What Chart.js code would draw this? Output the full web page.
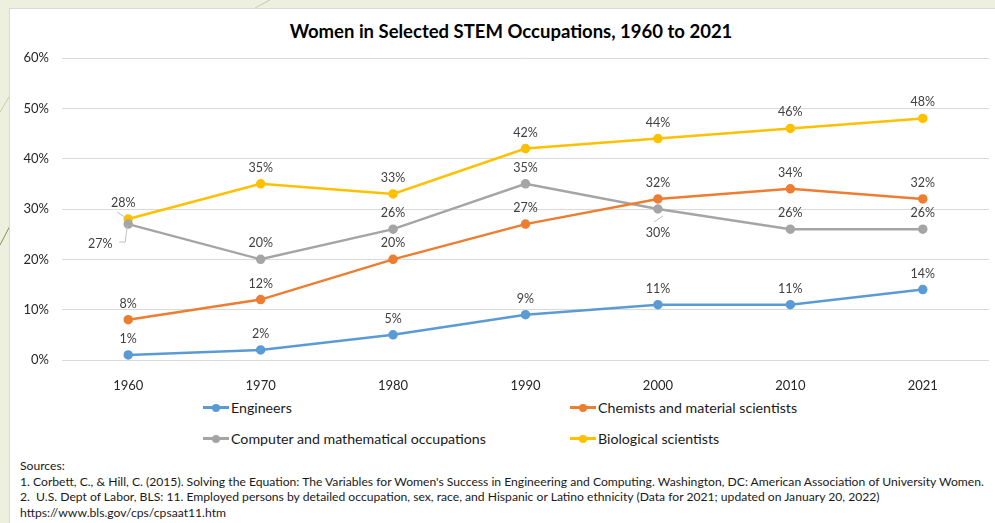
<!DOCTYPE html>
<html lang="en">
<head>
<meta charset="UTF-8">
<title>Women in Selected STEM Occupations</title>
<script src="https://cdn.jsdelivr.net/npm/chart.js"></script>
<style>
  html, body { margin: 0; padding: 0; }
  body { width: 995px; height: 523px; background: #eef0df; position: relative; overflow: hidden; font-family: Lato, "Open Sans", sans-serif; }
  #deco { position: absolute; left: 0; top: 0; }
  #card { position: absolute; left: 9px; top: 8px; width: 986px; height: 515px; background: #fff; border-top: 1px solid #d9d9d9; border-left: 1px solid #d9d9d9; }
  #wrap { position: absolute; left: 0; top: 0; width: 995px; height: 395px; }
  #title { position: absolute; left: 211px; width: 600px; top: 20px; text-align: center; font-size: 18.5px; font-weight: bold; color: #000; }
  .leg { position: absolute; font-size: 14.2px; color: #1a1a1a; display: flex; align-items: center; }
  .leg i { display: inline-block; position: relative; width: 26px; height: 3px; margin-right: 2px; }
  .leg i b { position: absolute; left: 9px; top: -2.5px; width: 8px; height: 8px; border-radius: 50%; }
  #src { position: absolute; left: 20px; top: 458px; font-size: 12.15px; line-height: 15.5px; color: #1a1a1a; white-space: nowrap; }
</style>
</head>
<body>
<svg id="deco" width="995" height="523">
  <line x1="0" y1="112" x2="12" y2="92" stroke="#c9cba8" stroke-width="1"/>
  <line x1="0" y1="245" x2="12" y2="222" stroke="#8a8a5a" stroke-width="1"/>
  <line x1="255" y1="8" x2="270" y2="0" stroke="#c9cba8" stroke-width="1"/>
</svg>
<div id="card"></div>
<div id="title">Women in Selected STEM Occupations, 1960 to 2021</div>
<div id="wrap"><canvas id="stemChart" width="995" height="395"></canvas></div>

<div class="leg" style="left:203px; top:399px;"><i style="background:#5b9bd5"><b style="background:#5b9bd5"></b></i>Engineers</div>
<div class="leg" style="left:570px; top:399px;"><i style="background:#ed7d31"><b style="background:#ed7d31"></b></i>Chemists and material scientists</div>
<div class="leg" style="left:203px; top:430px;"><i style="background:#a5a5a5"><b style="background:#a5a5a5"></b></i>Computer and mathematical occupations</div>
<div class="leg" style="left:570px; top:430px;"><i style="background:#ffc000"><b style="background:#ffc000"></b></i>Biological scientists</div>

<div id="src">
Sources:<br>
1. Corbett, C., &amp; Hill, C. (2015). Solving the Equation: The Variables for Women's Success in Engineering and Computing. Washington, DC: American Association of University Women.<br>
2.&nbsp; U.S. Dept of Labor, BLS: 11. Employed persons by detailed occupation, sex, race, and Hispanic or Latino ethnicity (Data for 2021; updated on January 20, 2022)<br>
https://www.bls.gov/cps/cpsaat11.htm
</div>

<script>
var years = ['1960', '1970', '1980', '1990', '2000', '2010', '2021'];
var engineers = [1, 2, 5, 9, 11, 11, 14];
var chemists = [8, 12, 20, 27, 32, 34, 32];
var computer = [27, 20, 26, 35, 30, 26, 26];
var biological = [28, 35, 33, 42, 44, 46, 48];

// label tweaks: [datasetIndex, pointIndex] -> offset from point, plus leader line
var labelNudge = {
    '2,0': { dx: -28, dy: 20, leader: [[-9, 18], [-3, 18], [-1, 2]] },
    '3,0': { dx: -5, dy: -16, leader: [[-11, -7], [-2, -1]] },
    '2,4': { dx: 0, dy: 24, leader: [[-4, 13], [5, 7]] }
};

var pointLabels = {
    id: 'pointLabels',
    afterDatasetsDraw: function(chart) {
        var ctx = chart.ctx;
        ctx.save();
        ctx.font = '12.5px Lato, "Open Sans", sans-serif';
        ctx.fillStyle = '#404040';
        ctx.textAlign = 'center';
        ctx.textBaseline = 'middle';
        chart.data.datasets.forEach(function(ds, i) {
            chart.getDatasetMeta(i).data.forEach(function(pt, j) {
                var n = labelNudge[i + ',' + j] || { dx: 0, dy: -16 };
                if (n.leader) {
                    ctx.beginPath();
                    ctx.strokeStyle = '#bfbfbf';
                    ctx.lineWidth = 1;
                    n.leader.forEach(function(p, k) {
                        if (k === 0) ctx.moveTo(pt.x + p[0], pt.y + p[1]);
                        else ctx.lineTo(pt.x + p[0], pt.y + p[1]);
                    });
                    ctx.stroke();
                }
                ctx.fillText(ds.data[j] + '%', pt.x + n.dx, pt.y + n.dy);
            });
        });
        ctx.restore();
    }
};

function series(label, data, color) {
    return {
        label: label,
        data: data,
        borderColor: color,
        backgroundColor: color,
        borderWidth: 2.5,
        pointRadius: 3.5,
        pointHoverRadius: 3.5,
        tension: 0
    };
}

var ctx = document.getElementById('stemChart').getContext('2d');
var stemChart = new Chart(ctx, {
    type: 'line',
    data: {
        labels: years,
        datasets: [
            series('Engineers', engineers, '#5b9bd5'),
            series('Chemists and material scientists', chemists, '#ed7d31'),
            series('Computer and mathematical occupations', computer, '#a5a5a5'),
            series('Biological scientists', biological, '#ffc000')
        ]
    },
    options: {
        responsive: false,
        animation: false,
        layout: { padding: { left: 0, right: 2, top: 58, bottom: 0 } },
        plugins: {
            legend: { display: false },
            tooltip: { enabled: false },
            title: { display: false }
        },
        scales: {
            x: {
                offset: true,
                grid: { display: false },
                border: { display: false },
                ticks: { color: '#262626', padding: 10, font: { family: 'Lato, "Open Sans", sans-serif', size: 13 } },
                afterFit: function(s) { s.height = 35; }
            },
            y: {
                min: 0,
                max: 60,
                ticks: {
                    stepSize: 10,
                    padding: 13,
                    color: '#262626',
                    font: { family: 'Lato, "Open Sans", sans-serif', size: 13 },
                    callback: function(v) { return v + '%'; }
                },
                grid: { color: '#d9d9d9', drawTicks: false },
                border: { display: false },
                afterFit: function(s) { s.width = 62; }
            }
        }
    },
    plugins: [pointLabels]
});
</script>
</body>
</html>
